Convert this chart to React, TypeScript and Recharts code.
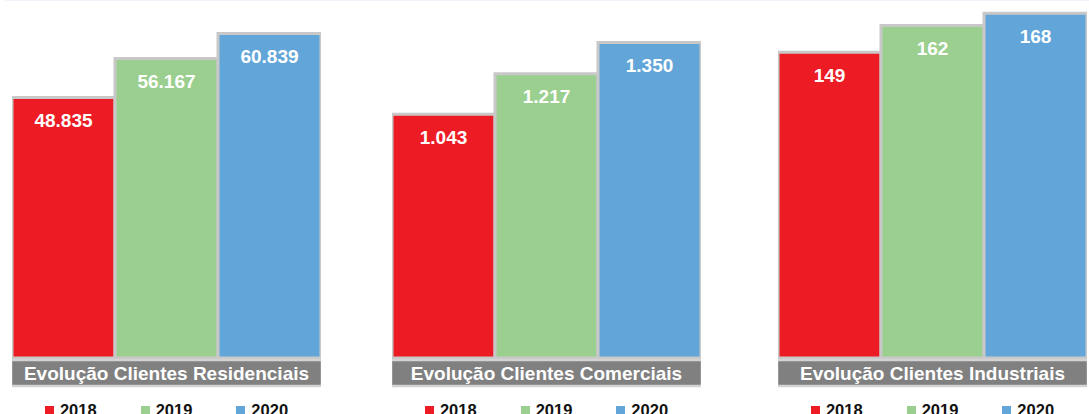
import { BarChart, Bar, XAxis, YAxis, Legend, LabelList } from 'recharts';

const years = ['2018', '2019', '2020'];
const colors = ['#ED1C24', '#9BCF8F', '#62A6D9'];

const titles = [
  'Evolução Clientes Residenciais',
  'Evolução Clientes Comerciais',
  'Evolução Clientes Industriais',
];
const residenciais = [48835, 56167, 60839];
const comerciais = [1043, 1217, 1350];
const industriais = [149, 162, 168];
const domainMax = [66200, 1511, 172];
const panelLeft = [12, 392, 778];

const PLOT_W = 309;
const FONT = '"Liberation Sans", Arial, sans-serif';

const fmt = (v: number) => String(v).replace(/\B(?=(\d{3})+(?!\d))/g, '.');

function ValueLabel(props: any) {
  const { x, y, width, value } = props;
  return (
    <text
      x={x + width / 2}
      y={y + 23}
      fill="#fff"
      textAnchor="middle"
      dominantBaseline="central"
      style={{ fontFamily: FONT, fontWeight: 700, fontSize: 19 }}
    >
      {fmt(value)}
    </text>
  );
}

function BandTick(props: any) {
  const { x, y, payload } = props;
  return (
    <g>
      <rect x={x - PLOT_W / 2 - 1} y={y + 2} width={PLOT_W + 2} height={26} fill="#808080" stroke="#d3d3d3" strokeWidth={2.5} />
      <text
        x={x}
        y={y + 15.5}
        fill="#fff"
        textAnchor="middle"
        dominantBaseline="central"
        style={{ fontFamily: FONT, fontWeight: 700, fontSize: 19 }}
      >
        {payload.value}
      </text>
    </g>
  );
}

function LegendContent(props: any) {
  const { payload } = props;
  return (
    <div style={{ display: 'flex', justifyContent: 'center', gap: 44, height: 16, alignItems: 'center' }}>
      {(payload || []).map((p: any) => (
        <div key={p.value} style={{ display: 'flex', alignItems: 'center', gap: 6 }}>
          <span style={{ width: 9, height: 9, background: p.color, display: 'inline-block' }} />
          <span style={{ fontFamily: FONT, fontWeight: 700, fontSize: 16.5, color: '#111' }}>{p.value}</span>
        </div>
      ))}
    </div>
  );
}

function Panel({ idx, values }: { idx: number; values: number[] }) {
  const row: any = { name: titles[idx] };
  years.forEach((yr, i) => {
    row[yr] = values[i];
  });
  return (
    <div style={{ position: 'absolute', left: panelLeft[idx], top: 0 }}>
      <BarChart
        width={PLOT_W}
        height={422}
        data={[row]}
        margin={{ top: 5, right: 0, bottom: 4, left: 0 }}
        barCategoryGap={0}
        barGap={0}
      >
        <XAxis dataKey="name" axisLine={false} tickLine={false} tickSize={0} tickMargin={0} height={44} tick={<BandTick />} interval={0} />
        <YAxis hide domain={[0, domainMax[idx]]} />
        <Legend verticalAlign="bottom" content={<LegendContent />} />
        {years.map((yr, i) => (
          <Bar key={yr} dataKey={yr} fill={colors[i]} stroke="#c8c8c8" strokeWidth={3} isAnimationActive={false}>
            <LabelList dataKey={yr} content={<ValueLabel />} />
          </Bar>
        ))}
      </BarChart>
    </div>
  );
}

export default function App() {
  return (
    <div style={{ position: 'absolute', left: 0, top: 0, width: 1089, height: 414, overflow: 'hidden', background: '#fff' }}>
      <div style={{ position: 'absolute', left: 5, top: 0, width: 1084, height: 1, background: '#eef4f9' }} />
      <Panel idx={0} values={residenciais} />
      <Panel idx={1} values={comerciais} />
      <Panel idx={2} values={industriais} />
    </div>
  );
}
